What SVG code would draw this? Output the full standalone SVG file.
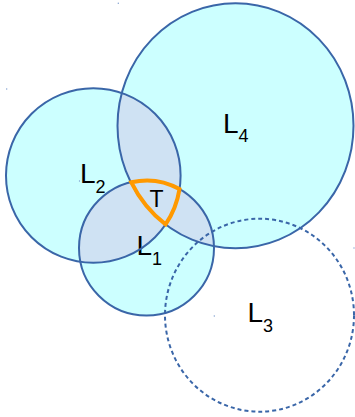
<svg xmlns="http://www.w3.org/2000/svg" width="355" height="417" viewBox="0 0 355 417">
<style>
.fill{fill:#ccffff;stroke:none}
.ov{fill:#cfe2f3;stroke:none}
.edge{fill:none;stroke:#3a66a8;stroke-width:2}
.dash{fill:none;stroke:#3a66a8;stroke-width:2;stroke-dasharray:4 3}
.lbl{font-family:"Liberation Sans",Arial,sans-serif;font-size:28px;fill:#000}
.sub{font-size:18px}
.dot{fill:#7f9fcf}
</style>
<defs>
<clipPath id="c1"><circle cx="146.5" cy="248" r="67.5"/></clipPath>
<clipPath id="c2"><circle cx="93.3" cy="175.5" r="87.3"/></clipPath>
<clipPath id="c4"><ellipse cx="235.5" cy="125.8" rx="118" ry="122.5"/></clipPath>
</defs>
<g id="fills">
<circle class="fill" cx="146.5" cy="248" r="67.5"/>
<circle class="fill" cx="93.3" cy="175.5" r="87.3"/>
<ellipse class="fill" cx="235.5" cy="125.8" rx="118" ry="122.5"/>
<circle class="ov" cx="93.3" cy="175.5" r="87.3" clip-path="url(#c1)"/>
<circle class="ov" cx="93.3" cy="175.5" r="87.3" clip-path="url(#c4)"/>
<ellipse class="ov" cx="235.5" cy="125.8" rx="118" ry="122.5" clip-path="url(#c1)"/>
</g>
<g id="L1">
<circle class="edge" cx="146.5" cy="248" r="67.5"/>
<text class="lbl" x="136.5" y="255">L<tspan class="sub" dy="10">1</tspan></text>
</g>
<g id="L2">
<circle class="edge" cx="93.3" cy="175.5" r="87.3"/>
<text class="lbl" x="80" y="183.3">L<tspan class="sub" dy="9.5">2</tspan></text>
</g>
<g id="L4">
<ellipse class="edge" cx="235.5" cy="125.8" rx="118" ry="122.5"/>
<text class="lbl" x="223" y="133.3">L<tspan class="sub" dy="8.4">4</tspan></text>
</g>
<g id="L3">
<ellipse class="dash" cx="259.5" cy="315.2" rx="94.5" ry="96.5"/>
<text class="lbl" x="247.5" y="321.7">L<tspan class="sub" dy="10">3</tspan></text>
</g>
<g id="T">
<path d="M131.3,182.3 A67.5,67.5 0 0 1 179.5,189.1 A87.3,87.3 0 0 1 165.6,224.4 A118,122.5 0 0 1 131.3,182.3 Z" fill="none" stroke="#ff9900" stroke-width="4" stroke-linejoin="miter"/>
<text class="lbl" x="156.5" y="207" text-anchor="middle" style="font-size:23px">T</text>
</g>
<g id="marks">
<circle class="dot" cx="6.7" cy="89" r="0.7"/>
<circle class="dot" cx="118.3" cy="3.3" r="0.7"/>
<circle class="dot" cx="214.3" cy="316" r="0.7"/>
<circle class="dot" cx="354" cy="248" r="0.7"/>
<circle class="dot" cx="79.5" cy="181" r="0.7"/>
</g>
</svg>
